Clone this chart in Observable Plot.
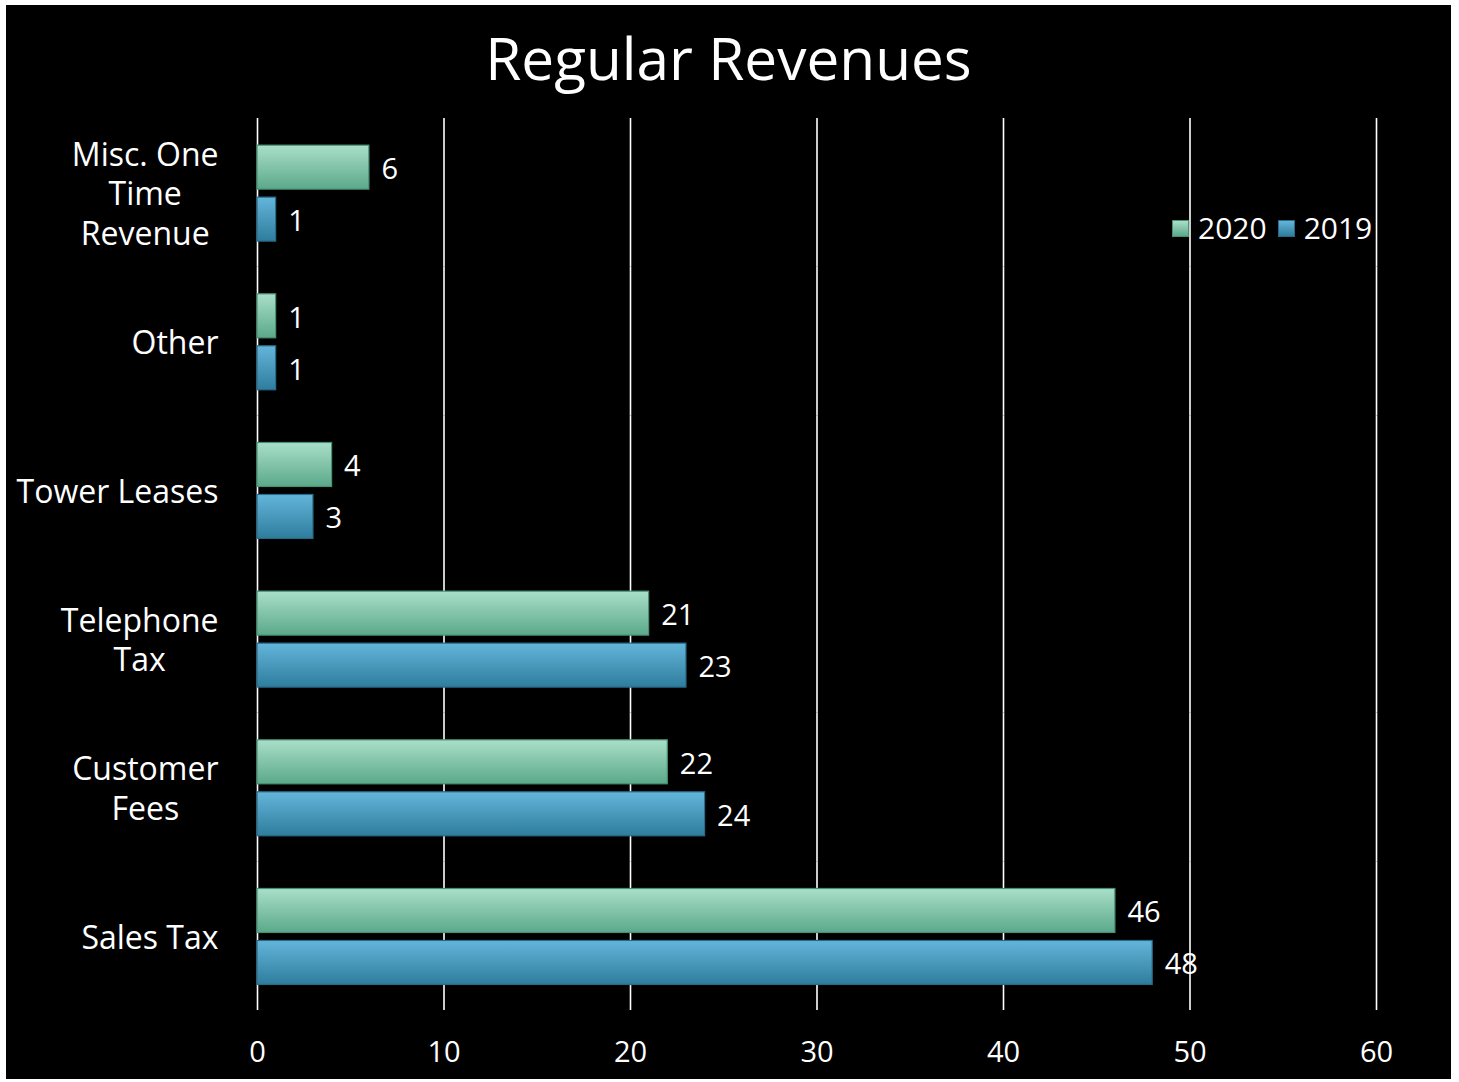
<!DOCTYPE html>
<html>
<head>
<meta charset="utf-8">
<script src="https://cdn.jsdelivr.net/npm/d3@7"></script>
<script src="https://cdn.jsdelivr.net/npm/@observablehq/plot@0.6"></script>
<style>
  html, body { margin: 0; padding: 0; background: #ffffff; }
  #box { position: absolute; left: 6px; top: 5px; width: 1445px; height: 1074px; background: #000; overflow: hidden; font-family: "Open Sans", Lato, sans-serif; color: #fff; }
  #title { position: absolute; left: 0; width: 1445px; top: 23px; text-align: center; font-size: 58.5px; line-height: 1; font-weight: 400; }
  #chart { position: absolute; left: 0; top: 108px; line-height: 0; }
  #chart svg { display: block; }
  #legend { position: absolute; left: 1166px; top: 208px; display: flex; align-items: center; font-size: 30px; line-height: 1; }
  #legend .sw { width: 17px; height: 17px; display: inline-block; margin-right: 9px; box-sizing: border-box; }
  #legend .item { display: flex; align-items: center; margin-right: 11px; }
</style>
</head>
<body>
<div id="box">
  <div id="title">Regular Revenues</div>
  <div id="chart"></div>
  <div id="legend"></div>
</div>
<script>
const categories = ["Misc. One Time Revenue", "Other", "Tower Leases", "Telephone Tax", "Customer Fees", "Sales Tax"];
const categoryLabels = ["Misc. One\nTime\nRevenue", "Other", "Tower Leases", "Telephone\nTax", "Customer\nFees", "Sales Tax"];
const series = ["2020", "2019"];
const values2020 = [6, 1, 4, 21, 22, 46];
const values2019 = [1, 1, 3, 23, 24, 48];
const xTicks = [0, 10, 20, 30, 40, 50, 60];

const fills = {"2020": "url(#grad2020)", "2019": "url(#grad2019)"};
const strokes = {"2020": "#4a8f76", "2019": "#2a6a88"};
const gradStops = {
  "2020": ["#a9dfc8", "#5ba98a"],
  "2019": ["#63b5da", "#2e7d9d"]
};

const data = categories.flatMap((c, i) => [
  {category: c, series: "2020", value: values2020[i]},
  {category: c, series: "2019", value: values2019[i]}
]);

const fontFamily = '"Open Sans", Lato, sans-serif';
const labelSize = 32;
const ctx = document.createElement("canvas").getContext("2d");
ctx.font = `${labelSize}px ${fontFamily}`;

const labelMarks = categories.map((c, i) => {
  const lines = categoryLabels[i].split("\n");
  const w = Math.max(...lines.map(l => ctx.measureText(l).width));
  return Plot.text([c], {
    fy: d => d,
    text: () => categoryLabels[i],
    frameAnchor: "left",
    textAnchor: "middle",
    dx: -39 - w / 2,
    fill: "white",
    fontSize: labelSize,
    lineHeight: 1.23
  });
});

const chart = Plot.plot({
  width: 1445,
  height: 966,
  marginLeft: 251,
  marginRight: 75,
  marginTop: 5,
  marginBottom: 69,
  style: {background: "black", color: "white", fontFamily: fontFamily, overflow: "visible"},
  x: {domain: [0, 60], axis: null},
  y: {domain: series, paddingInner: 8 / 52, paddingOuter: 0.507, align: 0.515, round: false, axis: null},
  fy: {domain: categories, padding: 0, round: false, axis: null, label: null},
  marks: [
    Plot.gridX(xTicks, {stroke: "white", strokeOpacity: 1, strokeWidth: 1.6}),
    Plot.barX(data, {
      x: "value", y: "series", fy: "category",
      fill: d => fills[d.series],
      stroke: d => strokes[d.series],
      strokeWidth: 1.2
    }),
    Plot.text(data, {
      x: "value", y: "series", fy: "category",
      text: d => String(d.value),
      dx: 12, dy: 2, textAnchor: "start", fill: "white", fontSize: 29
    }),
    Plot.axisX(xTicks, {tickSize: 0, tickPadding: 31, fontSize: 29, fill: "white", label: null}),
    ...labelMarks
  ]
});

// gradient definitions
const svgNS = "http://www.w3.org/2000/svg";
const defs = document.createElementNS(svgNS, "defs");
for (const s of series) {
  const g = document.createElementNS(svgNS, "linearGradient");
  g.setAttribute("id", "grad" + s);
  g.setAttribute("x1", "0"); g.setAttribute("y1", "0");
  g.setAttribute("x2", "0"); g.setAttribute("y2", "1");
  gradStops[s].forEach((col, k) => {
    const st = document.createElementNS(svgNS, "stop");
    st.setAttribute("offset", k === 0 ? "0" : "1");
    st.setAttribute("stop-color", col);
    g.appendChild(st);
  });
  defs.appendChild(g);
}
chart.insertBefore(defs, chart.firstChild);
document.getElementById("chart").appendChild(chart);

// legend
const legend = document.getElementById("legend");
for (const s of series) {
  const item = document.createElement("div");
  item.className = "item";
  const sw = document.createElement("span");
  sw.className = "sw";
  sw.style.background = `linear-gradient(${gradStops[s][0]}, ${gradStops[s][1]})`;
  sw.style.border = `1px solid ${strokes[s]}`;
  const t = document.createElement("span");
  t.textContent = s;
  item.appendChild(sw); item.appendChild(t);
  legend.appendChild(item);
}
</script>
</body>
</html>
